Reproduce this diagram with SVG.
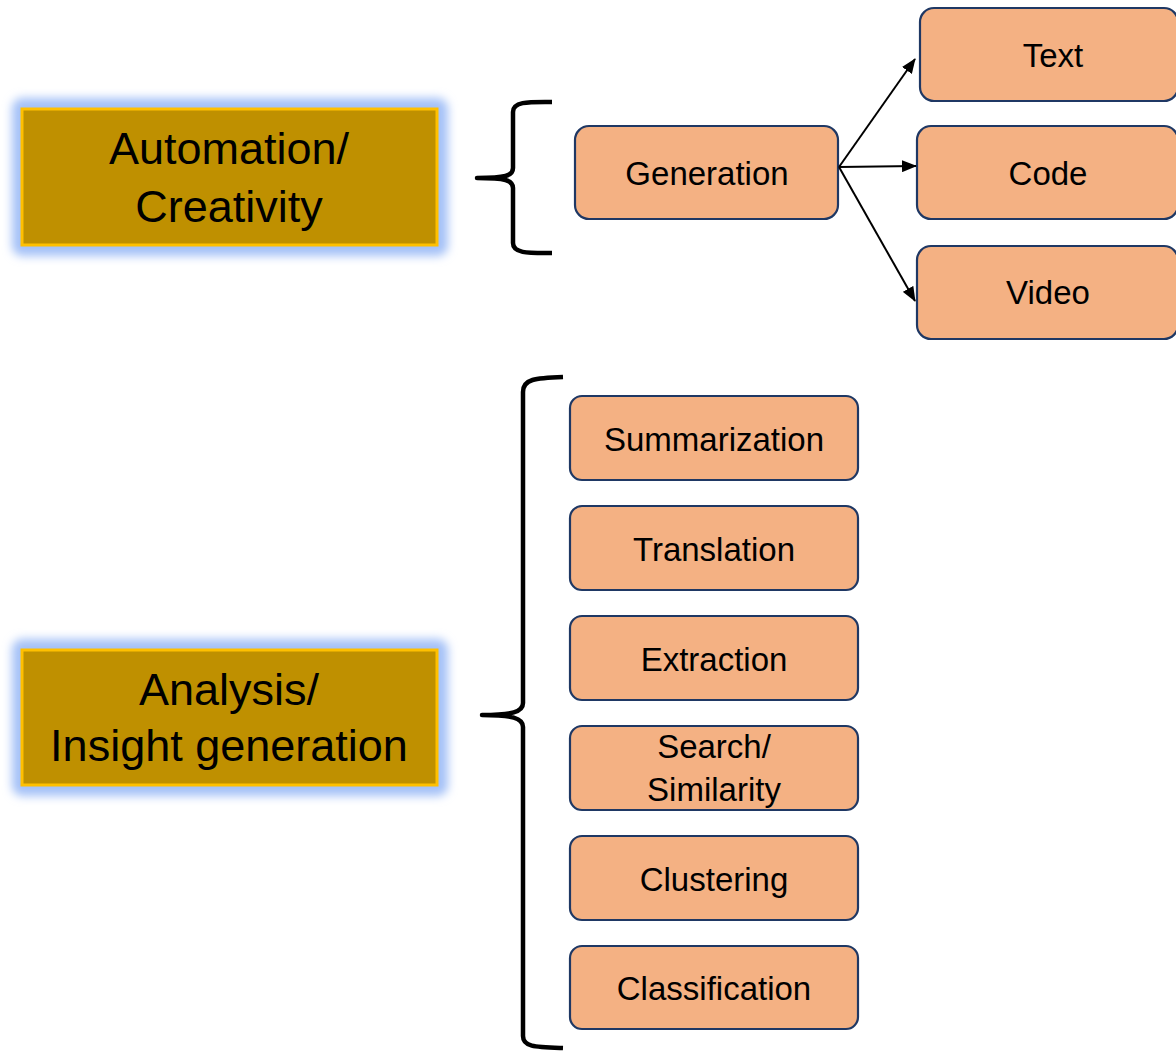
<svg xmlns="http://www.w3.org/2000/svg" width="1176" height="1052" viewBox="0 0 1176 1052">
  <style>
    .cat { fill: #BF9000; stroke: #FFC000; stroke-width: 3; }
    .glow { fill: #A4C1F7; filter: url(#soft); }
    .cat-label { font-family: "Liberation Sans", Arial, sans-serif; font-size: 45px; fill: #000; text-anchor: middle; }
    .task { fill: #F4B183; stroke: #1F3864; stroke-width: 2.2; }
    .task-label { font-family: "Liberation Sans", Arial, sans-serif; font-size: 33px; fill: #000; text-anchor: middle; }
    .brace { fill: none; stroke: #000; stroke-width: 4.5; stroke-linecap: butt; stroke-linejoin: round; }
    .arrow { fill: none; stroke: #000; stroke-width: 2; marker-end: url(#head); }
  </style>
  <defs>
    <filter id="soft" x="-20%" y="-30%" width="140%" height="160%">
      <feGaussianBlur stdDeviation="5"/>
    </filter>
    <marker id="head" viewBox="0 0 15 12" refX="14" refY="6" markerWidth="15" markerHeight="12" markerUnits="userSpaceOnUse" orient="auto">
      <path d="M0,0 L15,6 L0,12 Z" fill="#000"/>
    </marker>
  </defs>

  <rect width="1176" height="1052" fill="#fff"/>

  <!-- Category: Automation / Creativity -->
  <g id="automation">
    <rect class="glow" x="12" y="98" width="436" height="158" rx="10"/>
    <rect class="cat" x="22" y="109" width="415" height="136"/>
    <text class="cat-label" x="229" y="164">Automation/</text>
    <text class="cat-label" x="229" y="222">Creativity</text>
  </g>

  <!-- Category: Analysis / Insight generation -->
  <g id="analysis">
    <rect class="glow" x="12" y="639" width="436" height="157" rx="10"/>
    <rect class="cat" x="22" y="650" width="415" height="135"/>
    <text class="cat-label" x="229" y="705">Analysis/</text>
    <text class="cat-label" x="229" y="761">Insight generation</text>
  </g>

  <!-- Braces -->
  <g id="brace-top">
    <path class="brace" d="M552,102 C530,102 513,101 513,112 L513,168 C513,176 505,178 477,178 C505,178 513,180 513,188 L513,243 C513,254 530,253 552,253"/>
  </g>
  <g id="brace-bottom">
    <path class="brace" d="M563,377 C535,378 523,379 523,392 L523,703 C523,712 512,715 482,715 C512,715 523,718 523,727 L523,1036 C523,1047 535,1047 563,1048"/>
  </g>

  <!-- Generation branch -->
  <g id="generation">
    <rect class="task" x="575" y="126" width="263" height="93" rx="14"/>
    <text class="task-label" x="707" y="185">Generation</text>
  </g>
  <g id="text">
    <rect class="task" x="920" y="8" width="258" height="93" rx="14"/>
    <text class="task-label" x="1053" y="67">Text</text>
  </g>
  <g id="code">
    <rect class="task" x="917" y="126" width="261" height="93" rx="14"/>
    <text class="task-label" x="1048" y="185">Code</text>
  </g>
  <g id="video">
    <rect class="task" x="917" y="246" width="261" height="93" rx="14"/>
    <text class="task-label" x="1048" y="304">Video</text>
  </g>

  <g id="connectors">
    <line class="arrow" x1="839" y1="167" x2="915" y2="59"/>
    <line class="arrow" x1="839" y1="167" x2="916" y2="166"/>
    <line class="arrow" x1="839" y1="167" x2="915" y2="301"/>
  </g>

  <!-- Analysis tasks -->
  <g id="summarization">
    <rect class="task" x="570" y="396" width="288" height="84" rx="12"/>
    <text class="task-label" x="714" y="451">Summarization</text>
  </g>
  <g id="translation">
    <rect class="task" x="570" y="506" width="288" height="84" rx="12"/>
    <text class="task-label" x="714" y="561">Translation</text>
  </g>
  <g id="extraction">
    <rect class="task" x="570" y="616" width="288" height="84" rx="12"/>
    <text class="task-label" x="714" y="671">Extraction</text>
  </g>
  <g id="search">
    <rect class="task" x="570" y="726" width="288" height="84" rx="12"/>
    <text class="task-label" x="714" y="758">Search/</text>
    <text class="task-label" x="714" y="801">Similarity</text>
  </g>
  <g id="clustering">
    <rect class="task" x="570" y="836" width="288" height="84" rx="12"/>
    <text class="task-label" x="714" y="891">Clustering</text>
  </g>
  <g id="classification">
    <rect class="task" x="570" y="946" width="288" height="83" rx="12"/>
    <text class="task-label" x="714" y="1000">Classification</text>
  </g>
</svg>
